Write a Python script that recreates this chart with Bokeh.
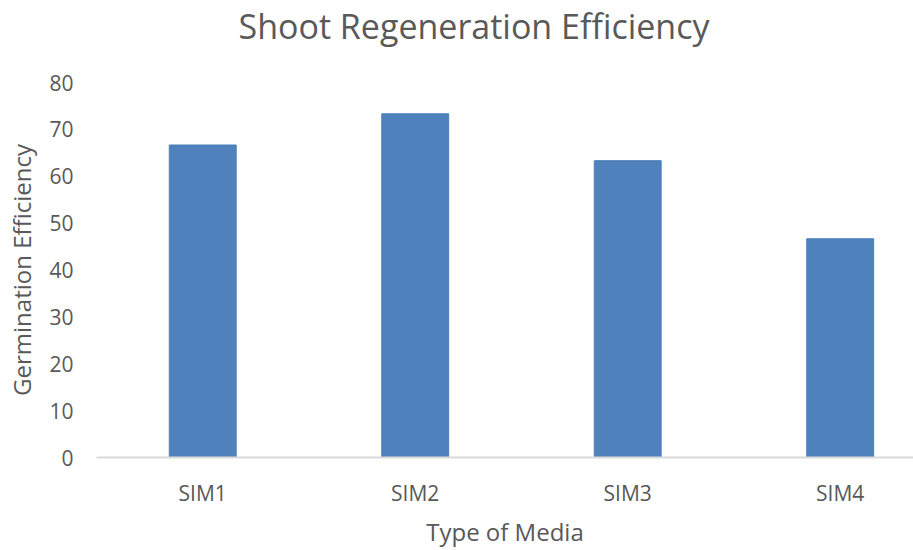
from bokeh.plotting import figure
from bokeh.models import Range1d, FixedTicker, Title
from bokeh.embed import file_html
from bokeh.resources import INLINE

categories = ["SIM1", "SIM2", "SIM3", "SIM4"]
efficiency = [66.67, 73.33, 63.33, 46.67]
y_ticks = [0, 10, 20, 30, 40, 50, 60, 70, 80]
title_text = "Shoot Regeneration Efficiency"

FONT = "Open Sans"
TEXT = "#595959"

xpos = [i + 0.5 for i in range(len(categories))]

p = figure(width=913, height=550, output_backend="svg", toolbar_location=None,
           x_range=Range1d(0, 3.845), y_range=Range1d(0, 80),
           min_border_left=96, min_border_right=0, min_border_top=82, min_border_bottom=93)
p.vbar(x=xpos, top=efficiency, width=0.315, fill_color="#4f81bd", line_color="#4f81bd")

p.outline_line_color = None
p.grid.visible = False
p.background_fill_color = "white"
p.border_fill_color = "white"

spacer = Title(text=" ", text_font=FONT, text_font_size="23px", standoff=0)
p.add_layout(spacer, "above")
t = Title(text=title_text, align="left", offset=142,
          text_font=FONT, text_font_size="34px", text_font_style="normal",
          text_color=TEXT, standoff=0)
p.add_layout(t, "above")

xa = p.xaxis[0]
xa.ticker = FixedTicker(ticks=xpos)
xa.major_label_overrides = {x: c for x, c in zip(xpos, categories)}
xa.axis_line_color = "#d9d9d9"
xa.axis_line_width = 2
xa.major_tick_line_color = None
xa.minor_tick_line_color = None
xa.major_tick_out = 0
xa.major_tick_in = 0
xa.major_label_standoff = 21
xa.major_label_text_font = FONT
xa.major_label_text_font_size = "21px"
xa.major_label_text_color = TEXT
xa.axis_label = "Type of Media"
xa.axis_label_text_font = FONT
xa.axis_label_text_font_size = "24px"
xa.axis_label_text_font_style = "normal"
xa.axis_label_text_color = TEXT
xa.axis_label_standoff = 5

ya = p.yaxis[0]
ya.ticker = FixedTicker(ticks=y_ticks)
ya.axis_line_color = None
ya.major_tick_line_color = None
ya.minor_tick_line_color = None
ya.major_tick_out = 0
ya.major_tick_in = 0
ya.major_label_standoff = 23
ya.major_label_text_font = FONT
ya.major_label_text_font_size = "21px"
ya.major_label_text_color = TEXT
ya.axis_label = "Germination Efficiency"
ya.axis_label_text_font = FONT
ya.axis_label_text_font_size = "24px"
ya.axis_label_text_font_style = "normal"
ya.axis_label_text_color = TEXT
ya.axis_label_standoff = 8

open("out.html", "w").write(file_html(p, INLINE))
